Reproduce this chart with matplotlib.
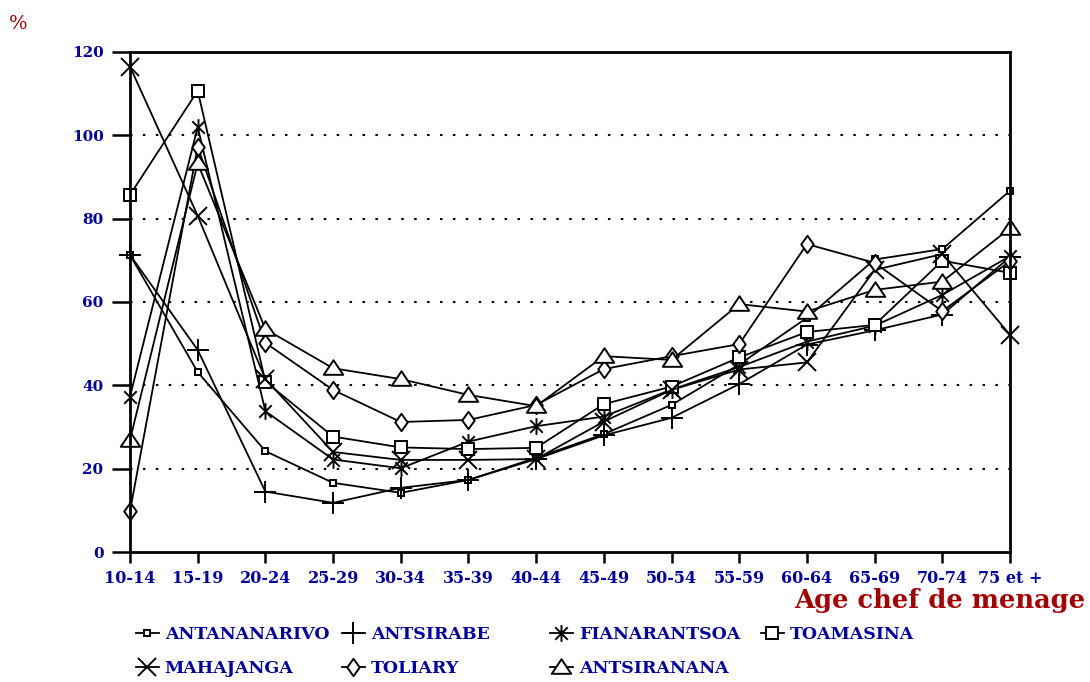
import numpy as np
import matplotlib
matplotlib.use('Agg')
import matplotlib.pyplot as plt
from matplotlib.path import Path

# tranches d'age du chef de menage
ages = ['10-14', '15-19', '20-24', '25-29', '30-34', '35-39', '40-44',
        '45-49', '50-54', '55-59', '60-64', '65-69', '70-74', '75 et +']
yticks = [0, 20, 40, 60, 80, 100, 120]

antananarivo = [71.3, 43.2, 24.2, 16.6, 14.2, 17.3, 22.6, 28.3, 35.3, 45.0, 56.2, 70.2, 72.7, 86.7]
antsirabe = [71.3, 48.5, 14.5, 11.8, 15.4, 17.3, 22.3, 28.0, 32.2, 40.3, 49.8, 53.2, 57.0, 70.8]
fianarantsoa = [37.3, 102.0, 33.8, 22.2, 20.1, 26.5, 30.2, 32.5, 39.0, 44.4, 50.5, 54.3, 61.7, 71.0]
toamasina = [85.7, 110.7, 40.9, 27.7, 25.1, 24.7, 25.0, 35.5, 39.7, 46.7, 52.8, 54.5, 69.9, 67.0]
mahajanga = [116.5, 80.7, 41.5, 24.0, 22.1, 22.1, 22.3, 31.3, 38.9, 43.8, 45.5, 67.7, 71.5, 52.1]
toliary = [9.8, 97.3, 50.2, 38.9, 31.2, 31.7, 35.3, 43.9, 47.0, 49.9, 73.9, 69.4, 57.8, 69.8]
antsiranana = [26.9, 93.3, 53.5, 44.1, 41.5, 37.7, 35.0, 47.0, 46.1, 59.5, 57.7, 62.9, 64.9, 77.7]

BLUE = '#0000a8'
RED = '#a80000'
FONT = ['DejaVu Serif', 'Liberation Serif']

# asterisque a 6 branches (vertical + X)
ast = Path([(0, -1), (0, 1), (-0.75, -0.75), (0.75, 0.75), (-0.75, 0.75), (0.75, -0.75)],
           [Path.MOVETO, Path.LINETO, Path.MOVETO, Path.LINETO, Path.MOVETO, Path.LINETO])
# triangle plus large que haut
tri = Path([(-1, -0.65), (1, -0.65), (0, 0.85), (-1, -0.65)],
           [Path.MOVETO, Path.LINETO, Path.LINETO, Path.CLOSEPOLY])
# losange un peu etroit
diam = Path([(0, -1), (0.72, 0), (0, 1), (-0.72, 0), (0, -1)],
            [Path.MOVETO, Path.LINETO, Path.LINETO, Path.LINETO, Path.CLOSEPOLY])

series = [
    ('ANTANANARIVO', antananarivo, 's', 4.3),
    ('ANTSIRABE', antsirabe, '+', 16),
    ('FIANARANTSOA', fianarantsoa, ast, 12),
    ('TOAMASINA', toamasina, 's', 8.7),
    ('MAHAJANGA', mahajanga, 'x', 13),
    ('TOLIARY', toliary, diam, 12.5),
    ('ANTSIRANANA', antsiranana, tri, 14),
]

fig = plt.figure(figsize=(10.9, 6.82), dpi=100)
ax = fig.add_axes([130 / 1090, 1 - 552 / 682, 880 / 1090, 500 / 682])

x = np.arange(len(ages))
handles = {}
for name, vals, mk, ms in series:
    ln, = ax.plot(x, vals, color='black', lw=1.3, marker=mk, markersize=ms,
                  markerfacecolor='white', markeredgecolor='black', markeredgewidth=1.4,
                  clip_on=False, label=name)
    handles[name] = ln

ax.set_xlim(0, len(ages) - 1)
ax.set_ylim(0, 120)
ax.set_xticks(x)
ax.set_xticklabels(ages)
ax.set_yticks(yticks)
for yv in yticks[1:-1]:
    ax.axhline(yv, color='black', lw=1.5, ls=(0, (1.2, 5)), zorder=0)

for sp in ax.spines.values():
    sp.set_linewidth(2)
ax.tick_params(axis='y', length=13, width=1.8, pad=6, direction='out')
ax.tick_params(axis='x', length=8, width=1.8, pad=5, direction='out')
for lab in ax.get_xticklabels():
    lab.set_fontfamily(FONT)
    lab.set_fontweight('bold')
    lab.set_fontsize(11.5)
    lab.set_color(BLUE)
for lab in ax.get_yticklabels():
    lab.set_fontfamily(FONT)
    lab.set_fontweight('bold')
    lab.set_fontsize(11)
    lab.set_color(BLUE)

fig.text(18 / 1090, 1 - 24 / 682, '%', color=RED, fontsize=14, family=FONT,
         ha='center', va='center')
fig.text(1085 / 1090, 1 - 588 / 682, 'Age chef de menage', color=RED, fontsize=18.5,
         family=FONT, fontweight='bold', ha='right', va='top')

# legende en grille 4 colonnes
cols = [['ANTANANARIVO', 'MAHAJANGA'], ['ANTSIRABE', 'TOLIARY'],
        ['FIANARANTSOA', 'ANTSIRANANA'], ['TOAMASINA']]
col_x = [136, 342, 550, 761]
for names, cx in zip(cols, col_x):
    hs = [handles[n] for n in names]
    leg = fig.legend(hs, names, loc='upper left', bbox_to_anchor=(cx / 1090, 1 - 626 / 682),
                     frameon=False, handlelength=1.3, handletextpad=0.35, labelspacing=1.0,
                     borderpad=0, borderaxespad=0,
                     prop={'family': FONT, 'weight': 'bold', 'size': 12.5})
    for t in leg.get_texts():
        t.set_color(BLUE)

fig.savefig('out.png', dpi=100)
